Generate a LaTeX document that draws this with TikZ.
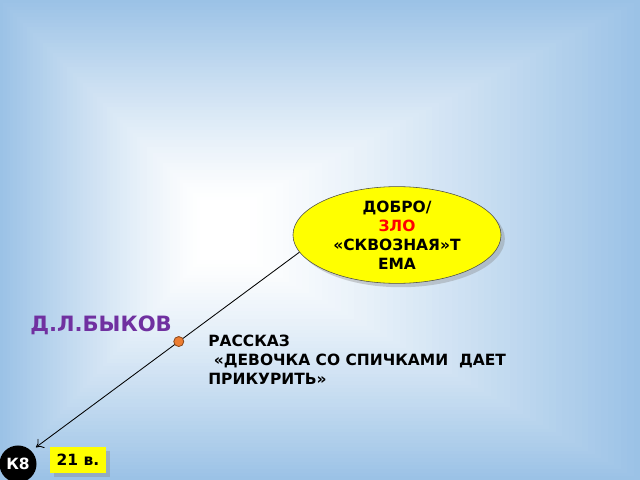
\documentclass[tikz,border=0pt]{standalone}
\usepackage{fontspec}
\setmainfont{DejaVu Sans}
\usepackage{xcolor}
\usetikzlibrary{shapes.geometric,shadows,arrows.meta}
\definecolor{bgblue}{RGB}{155,194,230}
\definecolor{hlpurple}{RGB}{112,48,160}
\definecolor{hlorange}{RGB}{237,125,49}
\definecolor{hlyellow}{RGB}{255,255,0}

\begin{document}
\begin{tikzpicture}[x=0.025cm,y=-0.025cm,
	txt/.style={font=\bfseries\fontsize{11}{13.5}\selectfont},
	dot/.style={circle,fill=hlorange,draw=hlorange!60!black,minimum size=0.25cm,inner sep=0pt}]
	\useasboundingbox (0,0) rectangle (640,480);
	
	% background
	\foreach \i in {0,...,60}{
		\pgfmathsetmacro{\t}{\i/60}
		\pgfmathsetmacro{\p}{100*(1-\t)^1.2}
		\fill[bgblue!\p!white] (200*\t,200*\t) rectangle (640-390*\t,480-220*\t);
	}
	
	\node[ellipse,draw=gray!60!black,fill=hlyellow,drop shadow={opacity=0.35},
		minimum width=5.2cm,minimum height=2.15cm,inner sep=0pt,align=center,txt]
		(A) at (397,235) {ДОБРО/\\\textcolor{red}{ЗЛО}\\«СКВОЗНАЯ»Т\\ЕМА};
	\node[circle,fill=black,text=white,txt,minimum size=0.925cm,inner sep=0pt]
		(K) at (18,464) {К8};
	\node[fill=hlyellow,txt,minimum width=1.4cm,minimum height=0.65cm,drop shadow={opacity=0.35}]
		(E) at (78,460) {21 в.};
	
	\draw[-{To[length=5pt,width=8pt]},line width=0.6pt,shorten >=4pt] (A.190) -- node[pos=0.45,dot] (B) {} (K.45);
	
	\node[anchor=west,inner sep=0pt,text=hlpurple,font=\bfseries\fontsize{15}{17}\selectfont]
		(C) at (30,325) {Д.Л.БЫКОВ};
	\node[txt,anchor=base west,align=left,inner sep=0pt]
		(D) at (208,384) {РАССКАЗ\\\hspace*{4pt}«ДЕВОЧКА СО СПИЧКАМИ\ \ ДАЕТ\\ПРИКУРИТЬ»};
\end{tikzpicture}
\end{document}
